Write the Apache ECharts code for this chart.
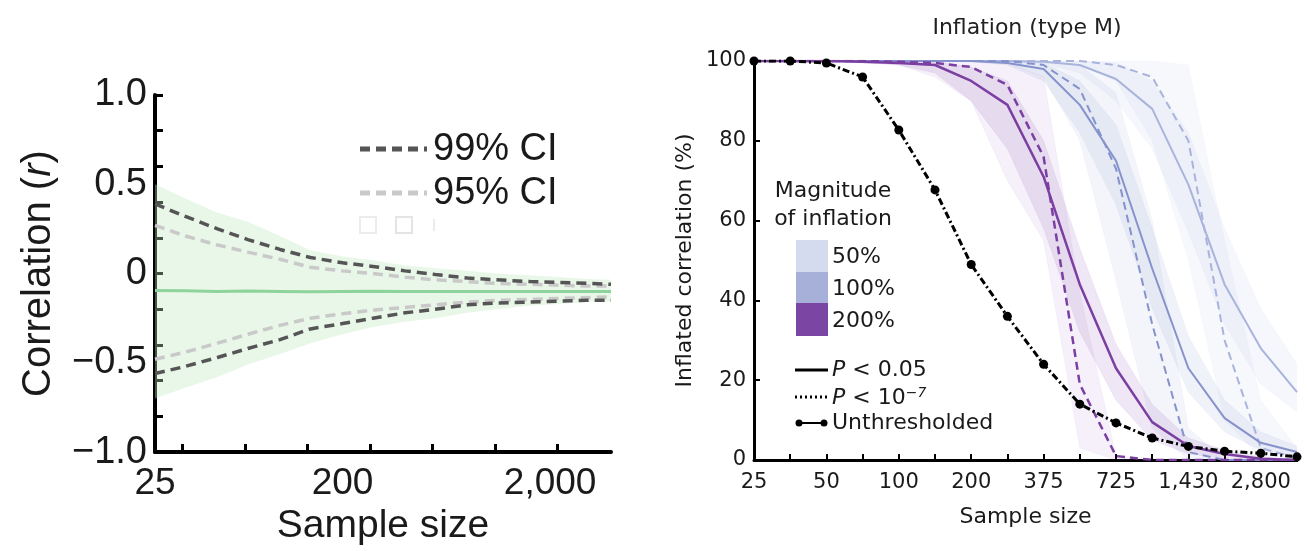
<!DOCTYPE html>
<html>
<head>
<meta charset="utf-8">
<script src="https://cdn.jsdelivr.net/npm/echarts@6/dist/echarts.min.js"></script>
<style>
  html, body { margin: 0; padding: 0; background: #fff; }
  #chart { width: 1309px; height: 551px; }
</style>
</head>
<body>
<div id="chart"></div>
<script>
// ---------- Left panel: sampling variability of a correlation ----------
const leftSizes = [25, 35, 50, 70, 100, 140, 200, 280, 400, 560, 800, 1100, 1600, 2200, 3000, 3928];
const meanR   = [-0.095, -0.097, -0.1, -0.098, -0.1, -0.102, -0.1, -0.099, -0.1, -0.101, -0.1, -0.1, -0.1, -0.1, -0.1, -0.1];
const rangeHi = [0.50, 0.42, 0.34, 0.29, 0.21, 0.13, 0.095, 0.075, 0.045, 0.03, 0.015, 0.0, -0.01, -0.02, -0.03, -0.035];
const rangeLo = [-0.70, -0.64, -0.58, -0.51, -0.45, -0.39, -0.34, -0.30, -0.27, -0.25, -0.22, -0.20, -0.18, -0.17, -0.16, -0.155];
const ci99Hi  = [0.39, 0.32, 0.25, 0.19, 0.135, 0.09, 0.06, 0.04, 0.015, -0.005, -0.025, -0.035, -0.045, -0.05, -0.055, -0.06];
const ci99Lo  = [-0.56, -0.52, -0.47, -0.42, -0.37, -0.31, -0.28, -0.25, -0.22, -0.20, -0.175, -0.165, -0.16, -0.155, -0.15, -0.15];
const ci95Hi  = [0.27, 0.21, 0.16, 0.12, 0.08, 0.035, 0.015, 0.0, -0.02, -0.035, -0.045, -0.055, -0.06, -0.065, -0.07, -0.07];
const ci95Lo  = [-0.48, -0.44, -0.39, -0.34, -0.29, -0.25, -0.225, -0.205, -0.19, -0.175, -0.16, -0.15, -0.145, -0.14, -0.135, -0.13];
const leftTickSizes  = [34, 68, 136, 272, 544, 1088, 2176];
const leftLabelSizes = [25, 200, 2000];
const leftYLabels = [-1, -0.5, 0, 0.5, 1];

// ---------- Right panel: inflation of significant correlations ----------
const sizes = [25, 35, 50, 70, 100, 140, 200, 265, 375, 525, 725, 1025, 1430, 2000, 2800, 3928];
const unthresholded = [100, 100, 99.5, 96, 82.7, 67.7, 49, 36, 24, 14, 9.3, 5.5, 3.4, 2.2, 1.7, 0.8];

// 200% inflation
const p05_200   = [100, 100, 100, 99.8, 99.5, 99, 95, 89, 71, 44, 23, 9.5, 3.5, 1.5, 0.3, 0];
const p05_200lo = [100, 100, 100, 99.5, 99, 97, 90, 78, 58, 32, 15, 5, 1.5, 0.5, 0, 0];
const p05_200hi = [100, 100, 100, 100, 100, 99.8, 98.5, 95, 80, 53, 29, 14, 5.5, 2.5, 0.8, 0];
const p7_200    = [100, 100, 100, 100, 99.8, 99.5, 98.5, 94, 76, 19, 1, 0, 0, 0, 0, 0];
const p7_200lo  = [100, 100, 100, 99.8, 99, 96, 90, 70, 55, 3, 0, 0, 0, 0, 0, 0];
const p7_200hi  = [100, 100, 100, 100, 100, 100, 99.8, 99.5, 96, 42, 1, 0, 0, 0, 0, 0];

// 100% inflation
const p05_100   = [100, 100, 100, 100, 100, 100, 100, 99.5, 98, 89, 75, 48, 23, 10.5, 4.3, 2];
const p05_100lo = [100, 100, 100, 100, 100, 100, 99.8, 99, 95, 82, 64, 38, 17, 7, 2.5, 1];
const p05_100hi = [100, 100, 100, 100, 100, 100, 100, 100, 99.5, 95, 84, 58, 31, 15, 7, 3.5];
const p7_100    = [100, 100, 100, 100, 100, 100, 100, 100, 99, 93, 73, 34, 2, 0, 0, 0];
const p7_100lo  = [100, 100, 100, 100, 100, 100, 100, 99.5, 96, 80, 45, 8, 0, 0, 0, 0];
const p7_100hi  = [100, 100, 100, 100, 100, 100, 100, 100, 100, 99, 92, 60, 8, 0, 0, 0];

// 50% inflation
const p05_50    = [100, 100, 100, 100, 100, 100, 100, 100, 99.8, 99, 95.5, 88, 69, 44, 28, 17];
const p05_50lo  = [100, 100, 100, 100, 100, 100, 100, 100, 99.5, 97, 90, 78, 57, 34, 19, 12];
const p05_50hi  = [100, 100, 100, 100, 100, 100, 100, 100, 100, 100, 99.5, 95, 82, 58, 38, 24];
const p7_50     = [100, 100, 100, 100, 100, 100, 100, 100, 100, 100, 99, 96, 80, 30, 3, 0.5];
const p7_50lo   = [100, 100, 100, 100, 100, 100, 100, 100, 100, 99.5, 95, 80, 50, 10, 0.5, 0];
const p7_50hi   = [100, 100, 100, 100, 100, 100, 100, 100, 100, 100, 100, 100, 99, 55, 15, 3];

const RF = '"DejaVu Sans", sans-serif';
const LF = '"Liberation Sans", Arial, sans-serif';
const INK = '#1a1a1a';

const lx = n => Math.log10(n);
const pairs = (xs, ys) => xs.map((n, i) => [lx(n), ys[i]]);
const diff = (hi, lo) => hi.map((v, i) => +(v - lo[i]).toFixed(4));

// Shaded band on the category panel, built as a stacked pair
function band(name, lo, hi, color) {
  const edge = { width: 1, color: color, opacity: 0.35 };
  return [
    { type: 'line', name: name + '-lo', xAxisIndex: 1, yAxisIndex: 1, stack: name,
      stackStrategy: 'all', data: lo, showSymbol: false, silent: true, lineStyle: edge, z: 1 },
    { type: 'line', name: name + '-hi', xAxisIndex: 1, yAxisIndex: 1, stack: name,
      stackStrategy: 'all', data: diff(hi, lo), showSymbol: false, silent: true,
      lineStyle: edge, areaStyle: { color: color }, z: 1 }
  ];
}

// Range band on the log-scaled panel, drawn as one polygon through the axis scales
function rangeBand(lo, hi, color) {
  return {
    type: 'custom', xAxisIndex: 0, yAxisIndex: 0, silent: true, z: 1,
    data: leftSizes.map((n, i) => [lx(n), lo[i], hi[i]]),
    encode: { x: 0, y: [1, 2] },
    renderItem: (params, api) => {
      if (params.dataIndex !== 0) return null;
      const top = leftSizes.map((n, i) => api.coord([lx(n), hi[i]]));
      const bot = leftSizes.map((n, i) => api.coord([lx(n), lo[i]])).reverse();
      return { type: 'polygon', shape: { points: top.concat(bot) }, style: { fill: color } };
    }
  };
}

function curve(data, color, dashed, width) {
  return { type: 'line', xAxisIndex: 1, yAxisIndex: 1, data: data, showSymbol: false, silent: true,
    lineStyle: { color: color, width: width, type: dashed ? [8, 5] : 'solid' }, z: 3 };
}

function leftLine(ys, color, dashed, width) {
  return { type: 'line', xAxisIndex: 0, yAxisIndex: 0, data: pairs(leftSizes, ys), showSymbol: false,
    silent: true, lineStyle: { color: color, width: width, type: dashed ? [10, 6] : 'solid' }, z: 3 };
}

const purple = '#7b3fa2', blue = '#8592cc', pale = '#a9b4dc';

const chart = echarts.init(document.getElementById('chart'), null, { renderer: 'canvas' });

chart.setOption({
  animation: false,
  backgroundColor: '#ffffff',
  title: {
    text: 'Inflation (type M)', left: 1022, top: 12, textAlign: 'center',
    textStyle: { fontFamily: RF, fontSize: 22, fontWeight: 'normal', color: '#222' }
  },
  grid: [
    { left: 155, top: 95, width: 456, height: 360 },
    { left: 754, top: 61, width: 543, height: 399 }
  ],
  xAxis: [
    {
      gridIndex: 0, type: 'value', min: lx(25), max: lx(3928),
      name: 'Sample size', nameLocation: 'middle', nameGap: 52,
      nameTextStyle: { fontFamily: LF, fontSize: 39, color: INK },
      axisLine: { onZero: false, lineStyle: { color: '#000', width: 4 } },
      axisTick: { inside: true, length: 8, lineStyle: { width: 3, color: '#000' },
        customValues: leftTickSizes.map(lx) },
      axisLabel: { customValues: leftLabelSizes.map(lx), margin: 13,
        fontFamily: LF, fontSize: 37, color: INK,
        formatter: v => Math.round(Math.pow(10, v)).toLocaleString('en-US') },
      splitLine: { show: false }
    },
    {
      gridIndex: 1, type: 'category', boundaryGap: false, data: sizes,
      name: 'Sample size', nameLocation: 'middle', nameGap: 46,
      nameTextStyle: { fontFamily: RF, fontSize: 22, color: INK },
      axisLine: { lineStyle: { color: '#000', width: 3 } },
      axisTick: { inside: true, length: 6, interval: 0, lineStyle: { width: 2, color: '#000' } },
      axisLabel: { interval: 1, margin: 12, fontFamily: RF, fontSize: 21, color: INK,
        formatter: v => Number(v).toLocaleString('en-US') },
      splitLine: { show: false }
    }
  ],
  yAxis: [
    {
      gridIndex: 0, type: 'value', min: -1, max: 1, interval: 0.2,
      name: '{n|Correlation (}{i|r}{n|)}', nameLocation: 'middle', nameGap: 96, nameRotate: 90,
      nameTextStyle: { rich: {
        n: { fontFamily: LF, fontSize: 40, color: INK },
        i: { fontFamily: LF, fontSize: 40, color: INK, fontStyle: 'italic' } } },
      axisLine: { show: true, onZero: false, lineStyle: { color: '#000', width: 4 } },
      axisTick: { show: true, inside: true, length: 8, lineStyle: { width: 3, color: '#000' } },
      axisLabel: { customValues: leftYLabels, margin: 8, fontFamily: LF, fontSize: 38, color: INK,
        formatter: v => v === 0 ? '0' : (v < 0 ? '\u2212' : '') + Math.abs(v).toFixed(1) },
      splitLine: { show: false }
    },
    {
      gridIndex: 1, type: 'value', min: 0, max: 100, interval: 20,
      name: 'Inflated correlation (%)', nameLocation: 'middle', nameGap: 58, nameRotate: 90,
      nameTextStyle: { fontFamily: RF, fontSize: 22, color: INK },
      axisLine: { show: true, lineStyle: { color: '#000', width: 3 } },
      axisTick: { show: true, inside: true, length: 6, lineStyle: { width: 2, color: '#000' } },
      axisLabel: { margin: 8, fontFamily: RF, fontSize: 21, color: INK },
      splitLine: { show: false }
    }
  ],
  series: [
    // left panel
    rangeBand(rangeLo, rangeHi, 'rgba(190, 232, 188, 0.36)'),
    leftLine(meanR, '#8fd39c', false, 3),
    leftLine(ci95Hi, '#c9c9c9', true, 3.5),
    leftLine(ci95Lo, '#c9c9c9', true, 3.5),
    leftLine(ci99Hi, '#555555', true, 3.5),
    leftLine(ci99Lo, '#555555', true, 3.5),

    // right panel: bands
    ...band('b50a', p7_50lo, p7_50hi, 'rgba(160, 178, 222, 0.12)'),
    ...band('b50b', p05_50lo, p05_50hi, 'rgba(160, 178, 222, 0.14)'),
    ...band('b100a', p7_100lo, p7_100hi, 'rgba(125, 142, 205, 0.13)'),
    ...band('b100b', p05_100lo, p05_100hi, 'rgba(125, 142, 205, 0.16)'),
    ...band('b200a', p7_200lo, p7_200hi, 'rgba(145, 85, 185, 0.13)'),
    ...band('b200b', p05_200lo, p05_200hi, 'rgba(145, 85, 185, 0.2)'),

    // right panel: curves
    curve(p05_50, pale, false, 2),
    curve(p7_50, pale, true, 2),
    curve(p05_100, blue, false, 2),
    curve(p7_100, blue, true, 2),
    curve(p05_200, purple, false, 2.5),
    curve(p7_200, purple, true, 2.5),
    {
      type: 'line', xAxisIndex: 1, yAxisIndex: 1, data: unthresholded, silent: true,
      symbol: 'circle', symbolSize: 9, showSymbol: true,
      itemStyle: { color: '#000' },
      lineStyle: { color: '#000', width: 3, type: [7, 3, 2, 3] }, z: 5
    }
  ],
  graphic: [
    // left legend
    { type: 'line', shape: { x1: 360, y1: 149, x2: 427, y2: 149 },
      style: { stroke: '#555', lineWidth: 5, lineDash: [10, 6] } },
    { type: 'line', shape: { x1: 360, y1: 193, x2: 427, y2: 193 },
      style: { stroke: '#c9c9c9', lineWidth: 5, lineDash: [10, 6] } },
    { type: 'text', x: 433, y: 150, style: { text: '99% CI', font: '38px ' + LF, fill: INK, verticalAlign: 'middle' } },
    { type: 'text', x: 433, y: 194, style: { text: '95% CI', font: '38px ' + LF, fill: INK, verticalAlign: 'middle' } },
    { type: 'rect', shape: { x: 360, y: 217, width: 16, height: 16 }, style: { fill: 'none', stroke: '#ececec', lineWidth: 2 } },
    { type: 'rect', shape: { x: 396, y: 217, width: 16, height: 16 }, style: { fill: 'none', stroke: '#e4e4e4', lineWidth: 2 } },
    { type: 'rect', shape: { x: 433, y: 219, width: 2, height: 12 }, style: { fill: '#ececec' } },

    // right legend: magnitude swatches
    { type: 'text', x: 833, y: 191, style: { text: 'Magnitude', font: '22px ' + RF, fill: INK, align: 'center', verticalAlign: 'middle' } },
    { type: 'text', x: 833, y: 219, style: { text: 'of inflation', font: '22px ' + RF, fill: INK, align: 'center', verticalAlign: 'middle' } },
    { type: 'rect', shape: { x: 796, y: 240, width: 32, height: 32 }, style: { fill: '#d5dbef' } },
    { type: 'rect', shape: { x: 796, y: 272, width: 32, height: 31 }, style: { fill: '#a7b0d9' } },
    { type: 'rect', shape: { x: 796, y: 303, width: 32, height: 33 }, style: { fill: '#7b45a3' } },
    { type: 'text', x: 832, y: 257, style: { text: '50%', font: '22px ' + RF, fill: INK, verticalAlign: 'middle' } },
    { type: 'text', x: 832, y: 289, style: { text: '100%', font: '22px ' + RF, fill: INK, verticalAlign: 'middle' } },
    { type: 'text', x: 832, y: 321, style: { text: '200%', font: '22px ' + RF, fill: INK, verticalAlign: 'middle' } },

    // right legend: line styles
    { type: 'line', shape: { x1: 795, y1: 370, x2: 828, y2: 370 }, style: { stroke: '#000', lineWidth: 3 } },
    { type: 'line', shape: { x1: 795, y1: 397, x2: 828, y2: 397 }, style: { stroke: '#000', lineWidth: 3, lineDash: [2, 3] } },
    { type: 'line', shape: { x1: 797, y1: 423, x2: 826, y2: 423 }, style: { stroke: '#000', lineWidth: 2 } },
    { type: 'circle', shape: { cx: 799, cy: 423, r: 3.5 }, style: { fill: '#000' } },
    { type: 'circle', shape: { cx: 824, cy: 423, r: 3.5 }, style: { fill: '#000' } },
    { type: 'text', x: 832, y: 370, style: {
      text: '{i|P} < 0.05', verticalAlign: 'middle',
      rich: { i: { font: 'italic 22px ' + RF, fill: INK } }, font: '22px ' + RF, fill: INK } },
    { type: 'text', x: 832, y: 398, style: {
      text: '{i|P} < 10{s|\u22127}', verticalAlign: 'middle',
      rich: { i: { font: 'italic 22px ' + RF, fill: INK },
              s: { font: 'italic 14px ' + RF, fill: INK, verticalAlign: 'top', padding: [0, 0, 10, 0] } },
      font: '22px ' + RF, fill: INK } },
    { type: 'text', x: 832, y: 423, style: { text: 'Unthresholded', font: '22px ' + RF, fill: INK, verticalAlign: 'middle' } }
  ]
});
</script>
</body>
</html>
